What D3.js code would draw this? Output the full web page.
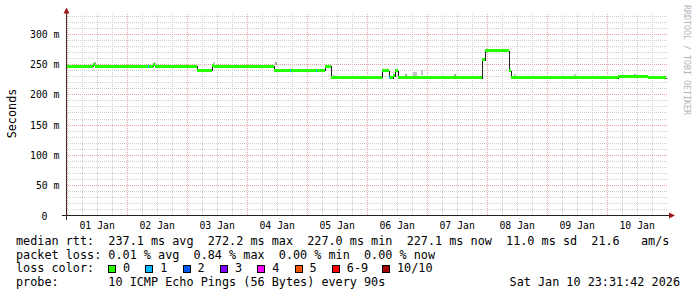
<!DOCTYPE html>
<html>
<head>
<meta charset="utf-8">
<script src="https://cdn.jsdelivr.net/npm/d3@7"></script>
<style>
  body { margin: 0; background: #fff; }
  text { font-family: 'DejaVu Sans Mono', monospace; fill: #000; }
</style>
</head>
<body>
<div id="chart"></div>
<script>
// time range of the graph (10 days ending at the probe timestamp)
const RANGE_START = new Date(2025, 11, 31, 23, 31, 42);
const RANGE_END = new Date(2026, 0, 10, 23, 31, 42);

const DAY_LABELS = ["01 Jan", "02 Jan", "03 Jan", "04 Jan", "05 Jan", "06 Jan", "07 Jan", "08 Jan", "09 Jan", "10 Jan"];
const Y_TICKS = [0, 50, 100, 150, 200, 250, 300];
const Y_TICK_LABELS = ["0", "50 m", "100 m", "150 m", "200 m", "250 m", "300 m"];

// median rtt as steps: start of each step (day of January, decimal) and value in ms
const MEDIAN_DAY = [0.98, 1.430, 1.464, 2.430, 2.464, 3.164, 3.414, 3.447, 4.447, 5.297, 5.397, 5.697, 6.130,
  6.247, 6.364, 6.430, 6.464, 6.514, 6.747, 6.914, 7.080, 7.747, 7.914, 7.964, 8.364, 8.397, 9.014, 9.747,
  10.080, 10.180, 10.680];
const MEDIAN_MS = [246.5, 248.5, 246.5, 248.5, 246.5, 239.5, 248, 246.5, 239.5, 246.5, 228.5, 227.5, 228.5,
  239, 227, 231, 238.5, 227, 228.5, 227, 228, 227, 257, 271.5, 239, 228, 228.5, 227,
  227.5, 229, 227];

// steps where 1 of 10 pings was lost
const LOSS_DAY = [2.349, 4.714, 5.147, 6.364];

// smoke (spread of the pings) around the median
const SMOKE_DAY = [1.447, 2.447, 3.431, 4.464, 5.430, 6.447, 6.630, 6.764, 6.897, 7.447, 8.447, 9.447, 10.447];
const SMOKE_LO = [248, 248, 248, 248, 229, 230, 229, 229, 232, 230, 229, 229, 229];
const SMOKE_HI = [253, 253, 253, 253, 232, 234, 234, 237, 240, 234, 233, 233, 233];

const LOSS_NAMES = ["0", "1", "2", "3", "4", "5", "6-9", "10/10"];
const LOSS_COLORS = ["#26ff00", "#00b8ff", "#0059ff", "#7e00ff", "#ff00ff", "#ff5500", "#ff0000", "#a10000"];

const width = 697, height = 297;
const X0 = 66, X1 = 666, YB = 215.5, YT = 15.5;
const endDay = d => new Date(2026, 0, 1).getTime() + (d - 1) * 864e5;
const crisp = v => Math.round(v) + 0.5;

const x = d3.scaleTime().domain([RANGE_START, RANGE_END]).range([X0, X1]);
const y = d3.scaleLinear().domain([0, 330]).range([YB, YT]);

const svg = d3.select("#chart").append("svg")
  .attr("width", width)
  .attr("height", height)
  .style("background", "#fff");

//////////////////////// grid ////////////////////////
const grid = svg.append("g").attr("shape-rendering", "crispEdges").attr("stroke-dasharray", "1,1");

// horizontal lines every 10 ms, stronger every 50 ms
d3.range(10, 331, 10).forEach(v => {
  grid.append("line")
    .attr("x1", X0).attr("x2", X1 + 1)
    .attr("y1", crisp(y(v))).attr("y2", crisp(y(v)))
    .attr("stroke", v % 50 === 0 ? "#e8a0a0" : "#cfcfcf");
});

// vertical lines every 6 hours, stronger at midnight
d3.timeHour.every(6).range(d3.timeDay.ceil(RANGE_START), RANGE_END).forEach(t => {
  const mid = t.getHours() === 0;
  grid.append("line")
    .attr("x1", crisp(x(t))).attr("x2", crisp(x(t)))
    .attr("y1", YT - 2).attr("y2", YB)
    .attr("stroke", mid ? "#e8a0a0" : "#cfcfcf");
});

//////////////////////// data ////////////////////////
const steps = MEDIAN_DAY.map((d, i) => ({
  t0: endDay(d),
  t1: i + 1 < MEDIAN_DAY.length ? endDay(MEDIAN_DAY[i + 1]) : RANGE_END.getTime(),
  v: MEDIAN_MS[i]
}));
const data = svg.append("g").attr("shape-rendering", "crispEdges");

// smoke
data.selectAll("rect.smoke")
  .data(SMOKE_DAY)
  .join("rect")
  .attr("class", "smoke")
  .attr("x", d => Math.round(x(endDay(d))))
  .attr("width", (d, i) => i === 7 ? 4 : 2)
  .attr("y", (d, i) => Math.round(y(SMOKE_HI[i])))
  .attr("height", (d, i) => Math.max(2, Math.round(y(SMOKE_LO[i]) - y(SMOKE_HI[i]))))
  .attr("fill", (d, i) => i % 3 === 0 ? "#a8a8a8" : "#c4c4c4");

// median line underneath the colour band (visible at the steps)
const medianPoints = steps.map(s => [s.t0, s.v]).concat([[RANGE_END.getTime(), steps[steps.length - 1].v]]);
data.append("path")
  .attr("d", d3.line().curve(d3.curveStepAfter).x(d => crisp(x(d[0]))).y(d => crisp(y(d[1])))(medianPoints))
  .attr("fill", "none")
  .attr("stroke", "#202020")
  .attr("stroke-width", 1);

// colour band: median +- 2.5 ms coloured by loss
const half = 2.5;
data.selectAll("rect.band")
  .data(steps)
  .join("rect")
  .attr("class", "band")
  .attr("x", d => Math.round(x(d.t0)))
  .attr("width", d => Math.max(1, Math.round(x(d.t1)) - Math.round(x(d.t0))))
  .attr("y", d => Math.round(y(d.v + half)))
  .attr("height", d => Math.round(y(d.v - half)) - Math.round(y(d.v + half)))
  .attr("fill", LOSS_COLORS[0]);

const medianAt = t => steps.find(s => t >= s.t0 && t < s.t1).v;
data.selectAll("rect.loss")
  .data(LOSS_DAY)
  .join("rect")
  .attr("class", "loss")
  .attr("x", d => Math.round(x(endDay(d))))
  .attr("width", 1)
  .attr("y", d => Math.round(y(medianAt(endDay(d)) + half)))
  .attr("height", d => Math.round(y(medianAt(endDay(d)) - half)) - Math.round(y(medianAt(endDay(d)) + half)))
  .attr("fill", LOSS_COLORS[1]);

//////////////////////// axes ////////////////////////
const axes = svg.append("g").attr("shape-rendering", "crispEdges");
axes.append("line")
  .attr("x1", X0 - 4).attr("x2", X1 + 4)
  .attr("y1", YB).attr("y2", YB)
  .attr("stroke", "#202020");
axes.append("line")
  .attr("x1", X0 + 0.5).attr("x2", X0 + 0.5)
  .attr("y1", YB + 4).attr("y2", YT - 3)
  .attr("stroke", "#3a2a2a");
svg.append("path")
  .attr("d", `M${X0 + 0.5},${YT - 8} L${X0 - 2.5},${YT - 2} L${X0 + 3.5},${YT - 2} Z`)
  .attr("fill", "#a01818");
svg.append("path")
  .attr("d", `M${X1 + 9},${YB} L${X1 + 3},${YB - 3} L${X1 + 3},${YB + 3} Z`)
  .attr("fill", "#a01818");

// y tick labels
svg.selectAll("text.ytick")
  .data(Y_TICKS)
  .join("text")
  .attr("class", "ytick")
  .attr("x", d => d === 0 ? 47.5 : 59.5)
  .attr("y", d => crisp(y(d)) + 3.5)
  .attr("text-anchor", "end")
  .style("font-size", "9.8px")
  .text((d, i) => Y_TICK_LABELS[i]);

// day labels at noon
svg.selectAll("text.xtick")
  .data(DAY_LABELS)
  .join("text")
  .attr("class", "xtick")
  .attr("x", (d, i) => x(new Date(2026, 0, i + 1, 12)))
  .attr("y", 228.5)
  .attr("text-anchor", "middle")
  .style("font-size", "9.8px")
  .text(d => d);

svg.append("text")
  .attr("transform", "translate(15.5,113.5) rotate(-90)")
  .attr("text-anchor", "middle")
  .style("font-size", "11.8px")
  .text("Seconds");

svg.append("text")
  .attr("transform", "translate(684,5) rotate(90)")
  .style("font-size", "8.3px")
  .style("fill", "#b4b4b4")
  .text("RRDTOOL / TOBI OETIKER");

//////////////////////// legend ////////////////////////
const legendText = (str, px, py, anchor) => svg.append("text")
  .attr("x", px).attr("y", py)
  .attr("text-anchor", anchor || "start")
  .attr("xml:space", "preserve")
  .style("white-space", "pre")
  .style("font-size", "11.8px")
  .text(str);

legendText("median rtt:  237.1 ms avg  272.2 ms max  227.0 ms min  227.1 ms now  11.0 ms sd  21.6   am/s", 16, 245);
legendText("packet loss: 0.01 % avg  0.84 % max  0.00 % min  0.00 % now", 16, 258.5);
legendText("loss color:", 16, 272);
legendText("probe:       10 ICMP Echo Pings (56 Bytes) every 90s", 16, 285.5);
legendText("Sat Jan 10 23:31:42 2026", 680, 285.5, "end");

const swatchX = LOSS_NAMES.map((n, i) => i < 7 ? 108 + i * 37.3 : 382);
swatchX.forEach((sx, i) => {
  svg.append("rect")
    .attr("x", Math.round(sx) + 0.5).attr("y", 265.5)
    .attr("width", 7).attr("height", 7)
    .attr("fill", LOSS_COLORS[i])
    .attr("stroke", "#000")
    .attr("shape-rendering", "crispEdges");
  legendText(LOSS_NAMES[i], sx + 15, 272);
});
</script>
</body>
</html>
